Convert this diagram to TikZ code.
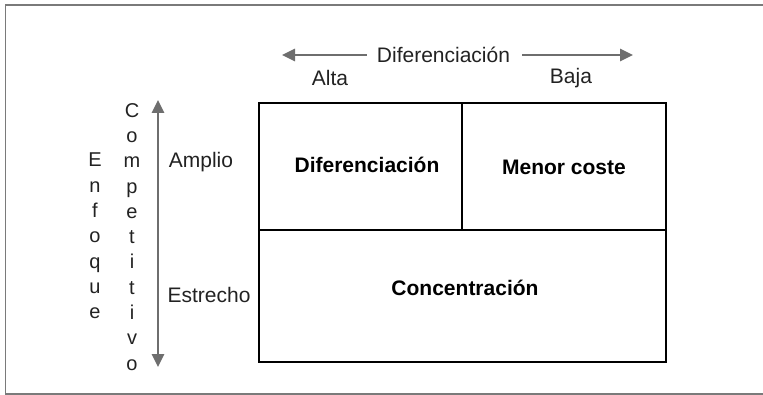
\documentclass[tikz,border=0pt]{standalone}
\usepackage{fontspec}
\setmainfont{Liberation Sans}
\usetikzlibrary{arrows.meta}
\definecolor{txt}{HTML}{222222}
\definecolor{arrg}{HTML}{6E6E6E}
\definecolor{frameg}{HTML}{7A7A7A}
\begin{document}
\begin{tikzpicture}[x=1pt,y=-1pt,
  lbl/.style={inner sep=0pt, text=txt, font=\fontsize{21}{24}\selectfont},
  blbl/.style={inner sep=0pt, text=black, font=\fontsize{21}{24}\selectfont\bfseries},
  col/.style={inner sep=0pt, text=txt, font=\fontsize{20}{25.3}\selectfont, align=center, anchor=north},
  arr/.style={draw=arrg, line width=2.6pt, -{Triangle[length=13pt,width=12pt]}},
  darr/.style={draw=arrg, line width=2.6pt, {Triangle[length=13pt,width=12pt]}-{Triangle[length=13pt,width=12pt]}},
  boxline/.style={draw=black, line width=2pt}]
\useasboundingbox (0,0) rectangle (763,395);
% outer frame
\draw[frameg, line width=1.5pt] (775,4.8) -- (5.5,4.8) -- (5.5,394) -- (775,394);
% top axis
\node[lbl] (difT) at (443.5,55) {Diferenciación};
\coordinate (lt) at (282,55);
\coordinate (rt) at (633,55);
\draw[arr] ([xshift=-10pt]difT.west) -- (lt);
\draw[arr] ([xshift=12pt]difT.east) -- (rt);
\node[lbl] (alta) at (330,78) {Alta};
\node[lbl] (baja) at (571,78) {Baja};
% vertical axis
\coordinate (vt) at (158,100);
\coordinate (vb) at (158,367);
\draw[darr] (vb) -- (vt);
\node[col] (comp) at (132,103) {C\\o\\m\\p\\e\\t\\i\\t\\i\\v\\o};
\node[col] (enf) at (95,153) {E\\n\\f\\o\\q\\u\\e};
\node[lbl] (amplio) at (201,162) {Amplio};
\node[lbl] (estrecho) at (209,295) {Estrecho};
% matrix
\coordinate (tl) at (259,103);
\coordinate (br) at (666,362);
\coordinate (ml) at (259,230);
\coordinate (mr) at (666,230);
\coordinate (mt) at (462,103);
\coordinate (mm) at (462,230);
\draw[boxline] (tl) rectangle (br);
\draw[boxline] (ml) -- (mr);
\draw[boxline] (mt) -- (mm);
\node[blbl] (dif) at (367,165) {Diferenciación};
\node[blbl] (menor) at (564,167) {Menor coste};
\node[blbl] (conc) at (465,288) {Concentración};
\end{tikzpicture}
\end{document}
